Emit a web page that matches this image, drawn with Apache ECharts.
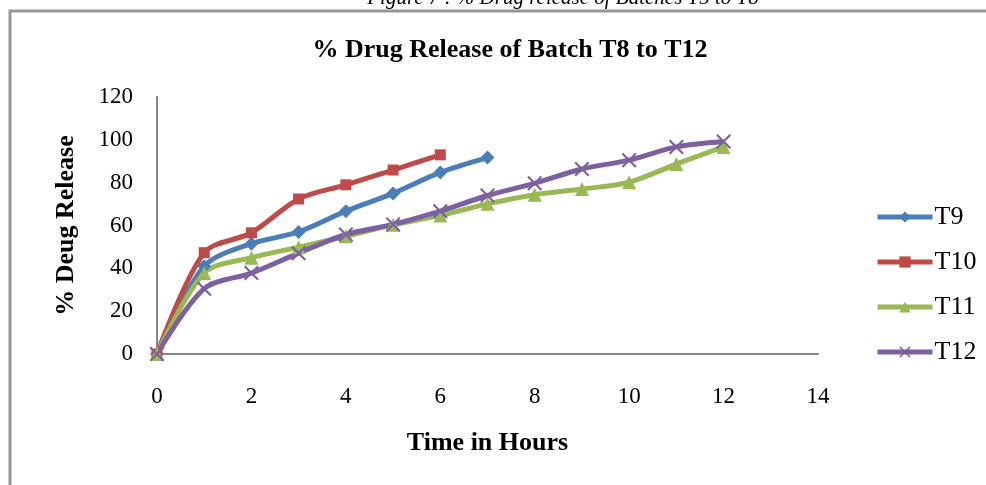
<!DOCTYPE html>
<html><head><meta charset="utf-8">
<script src="https://cdn.jsdelivr.net/npm/echarts@6/dist/echarts.min.js"></script>
<style>html,body{margin:0;padding:0;background:#fff;}#c{width:986px;height:485px;}</style>
</head><body><div id="c"></div>
<script>
const hours = [0,1,2,3,4,5,6,7,8,9,10,11,12];
const T9  = [0,41,51.5,57,66.7,75,84.8,91.7];
const T10 = [0,47.3,56.6,72.4,79,85.9,93];
const T11 = [0,37.8,45,49.9,55,60.3,64.7,70.1,74.4,77,80.2,88.7,96.7];
const T12 = [0,30.5,37.8,47.1,55.8,60.5,66.7,74,79.7,86.4,90.5,96.7,99.2];
const xTicks = [0,2,4,6,8,10,12,14];
const yTicks = [0,20,40,60,80,100,120];
const seriesNames = ['T9','T10','T11','T12'];
const colors = ['#4A7EBB','#BE4B48','#98B954','#7D60A0'];
const symbols = ['diamond','rect','triangle','path://M0,1L1,0L5,4L9,0L10,1L6,5L10,9L9,10L5,6L1,10L0,9L4,5Z'];
const symbolSizes = [14,11,14,15];
const allData = [T9,T10,T11,T12];

const font = '"Liberation Serif","Times New Roman",serif';
const chart = echarts.init(document.getElementById('c'));
chart.setOption({
  animation:false,
  graphic:[
    {type:'rect',shape:{x:10,y:11,width:1000,height:500},style:{fill:'none',stroke:'#969696',lineWidth:3}},
    {type:'text',x:563,y:9,style:{text:'Figure 7 : % Drug release of Batches T5 to T8',font:'italic 21px '+font,fill:'#000',textAlign:'center',textVerticalAlign:'bottom'}}
  ],
  title:{text:'% Drug Release of Batch T8 to T12',left:505,textAlign:'center',top:32,
    textStyle:{fontFamily:font,fontWeight:'bold',fontSize:26,color:'#000'}},
  legend:{orient:'vertical',left:870,top:199,itemWidth:55,itemHeight:14,itemGap:19,
    lineStyle:{width:5},
    textStyle:{fontFamily:font,fontSize:26,color:'#000',padding:[0,0,0,-3]},
    data:seriesNames},
  grid:{left:157,right:168,top:97,bottom:131,containLabel:false},
  xAxis:{type:'value',min:0,max:14,interval:2,
    axisLine:{lineStyle:{color:'#868686',width:2}},axisTick:{show:false},splitLine:{show:false},
    axisLabel:{fontFamily:font,fontSize:23,color:'#000',margin:31},
    name:'Time in Hours',nameLocation:'middle',nameGap:76,
    nameTextStyle:{fontFamily:font,fontWeight:'bold',fontSize:26,color:'#000'}},
  yAxis:{type:'value',min:0,max:120,interval:20,
    axisLine:{show:true,lineStyle:{color:'#868686',width:2}},axisTick:{show:false},splitLine:{show:false},
    axisLabel:{fontFamily:font,fontSize:23,color:'#000',margin:24},
    name:'% Deug Release',nameLocation:'middle',nameGap:78,
    nameTextStyle:{fontFamily:font,fontWeight:'bold',fontSize:26,color:'#000'}},
  series: allData.map((d,i)=>({
    name:seriesNames[i],type:'line',smooth:0.3,
    data:d.map((v,j)=>[hours[j],v]),
    symbol:symbols[i],symbolSize:symbolSizes[i],showAllSymbol:true,
    lineStyle:{color:colors[i],width:5},
    itemStyle:{color:colors[i]}
  }))
});
</script></body></html>
